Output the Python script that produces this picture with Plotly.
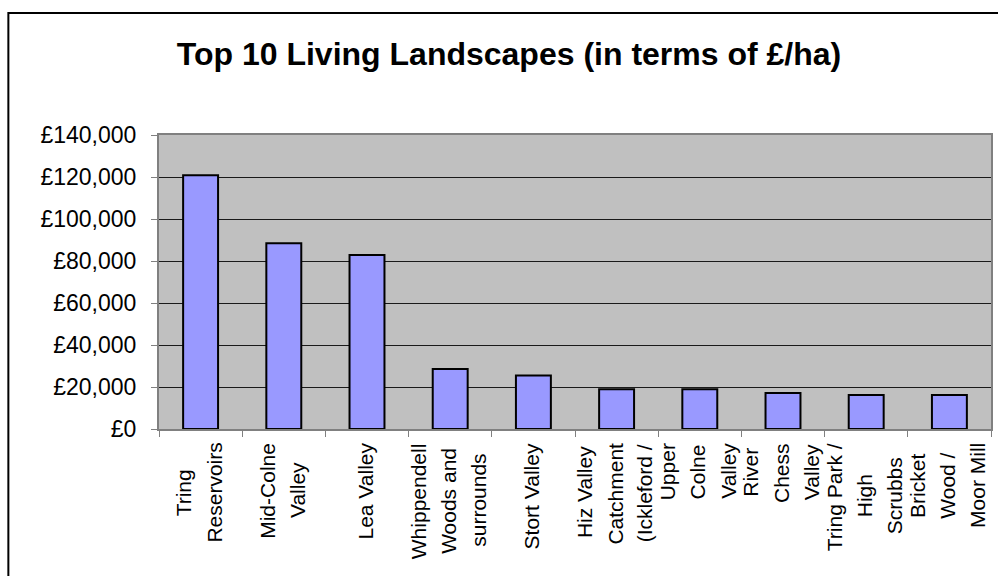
import plotly.graph_objects as go

categories = [
    "Tring Reservoirs", "Mid-Colne Valley", "Lea Valley",
    "Whippendell Woods and surrounds", "Stort Valley",
    "Hiz Valley Catchment (Ickleford /", "Upper Colne Valley",
    "River Chess Valley", "Tring Park / High Scrubbs",
    "Bricket Wood / Moor Mill",
]
label_lines = [
    ["Tring", "Reservoirs"],
    ["Mid-Colne", "Valley"],
    ["Lea Valley"],
    ["Whippendell", "Woods and", "surrounds"],
    ["Stort Valley"],
    ["Hiz Valley", "Catchment", "(Ickleford /"],
    ["Upper", "Colne", "Valley"],
    ["River", "Chess", "Valley"],
    ["Tring Park /", "High", "Scrubbs"],
    ["Bricket", "Wood /", "Moor Mill"],
]
values = [120800, 88400, 82900, 28600, 25500, 18900, 18900, 17100, 16200, 16200]
y_ticks = [0, 20000, 40000, 60000, 80000, 100000, 120000, 140000]
y_tick_text = ["£{:,}".format(v) for v in y_ticks]

FONT = "Liberation Sans, Arial, sans-serif"
W, H = 998, 576
L, R, T, B = 159, 5, 135, 147
pw = W - L - R
ph = H - T - B

# approximate Arial advance widths (per 1000 em) used to centre wrapped label lines
_ARIAL = {" ": 278, "(": 333, "/": 278, "-": 333, "B": 667, "C": 722, "H": 722,
          "L": 556, "M": 833, "R": 722, "S": 667, "T": 611, "U": 722, "V": 667,
          "W": 944, "I": 278, "c": 500, "f": 278, "i": 222, "k": 500, "l": 222,
          "m": 833, "r": 333, "s": 500, "t": 278, "v": 500, "w": 722, "y": 500}


def text_len(s, size):
    return sum(_ARIAL.get(ch, 556) for ch in s) * size / 1000.0


LABEL_SIZE = 21
PITCH = 30

fig = go.Figure()
fig.add_trace(go.Bar(
    x=categories, y=values, width=0.42,
    marker=dict(color="#9999FF", line=dict(color="black", width=2)),
    showlegend=False, hoverinfo="x+y",
))

for cat, lines in zip(categories, label_lines):
    longest = max(text_len(s, LABEL_SIZE) for s in lines)
    n = len(lines)
    for i, s in enumerate(lines):
        fig.add_annotation(
            x=cat, y=0, xref="x", yref="y",
            text=s, textangle=-90,
            xanchor="center", yanchor="top",
            xshift=(i - (n - 1) / 2) * PITCH - 2,
            yshift=-12 - (longest - text_len(s, LABEL_SIZE)) / 2,
            showarrow=False,
            font=dict(family=FONT, size=LABEL_SIZE, color="black"),
        )

# chart outer border
fig.add_shape(type="rect", xref="paper", yref="paper",
              x0=(8 - L) / pw, x1=(1010 - L) / pw,
              y0=-(H + 20 - T - ph) / ph, y1=(H - 13 - B) / ph,
              line=dict(color="black", width=2), fillcolor="rgba(0,0,0,0)", layer="below")

fig.update_layout(
    width=W, height=H,
    margin=dict(l=L, r=R, t=T, b=B, pad=0),
    paper_bgcolor="white", plot_bgcolor="#C0C0C0",
    font=dict(family=FONT, color="black"),
    title=dict(text="<b>Top 10 Living Landscapes (in terms of £/ha)</b>",
               x=509 / W, xanchor="center", y=(H - 54) / H, yanchor="middle",
               font=dict(family=FONT, size=32, color="black")),
)
fig.update_xaxes(
    type="category", showticklabels=False, tickson="boundaries",
    ticks="outside", ticklen=6, tickcolor="#808080", tickwidth=1,
    showline=True, linecolor="#808080", linewidth=2, mirror=True,
    showgrid=False,
)
fig.update_yaxes(
    range=[0, 140000], tickmode="array", tickvals=y_ticks, ticktext=y_tick_text,
    ticks="outside", ticklen=6, tickcolor="#808080", tickwidth=1,
    ticklabelstandoff=10,
    tickfont=dict(family=FONT, size=23, color="black"),
    showline=True, linecolor="#808080", linewidth=2, mirror=True,
    showgrid=True, gridcolor="#1a1a1a", gridwidth=1, zeroline=False,
)

fig.write_html("out.html")
